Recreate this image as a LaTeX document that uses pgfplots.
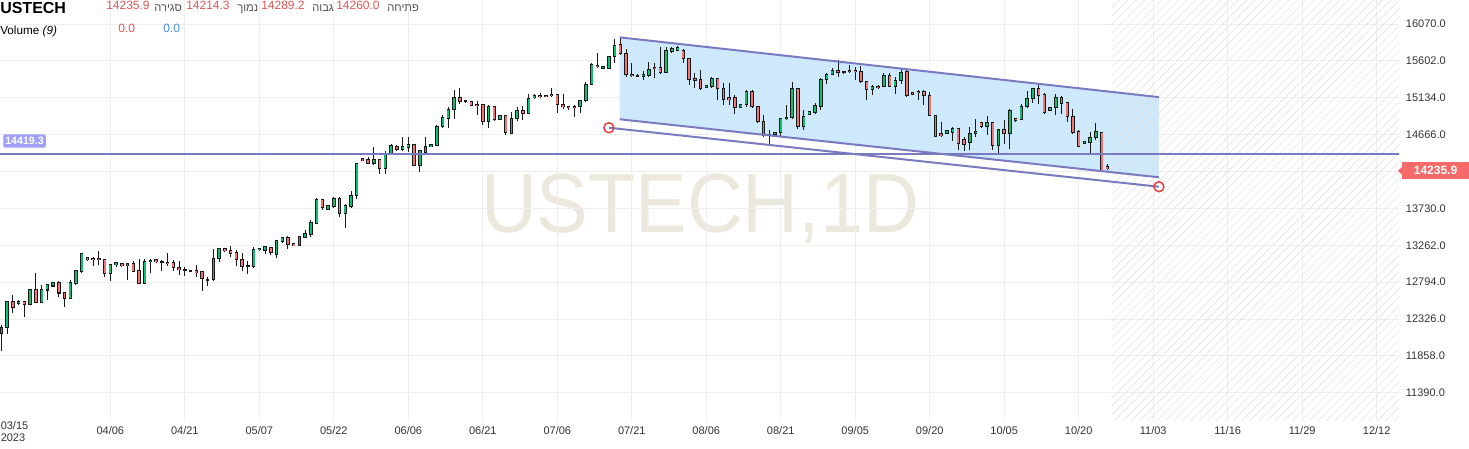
\documentclass[border=0pt]{standalone}
\usepackage{fontspec}
\setmainfont{Liberation Sans}
\newfontfamily\hebfont[Script=Hebrew]{Liberation Sans}
\TeXXeTstate=1
\usepackage{pgfplots}
\pgfplotsset{compat=1.18}
\usepackage{pgfplotstable}
\usetikzlibrary{patterns.meta}

\definecolor{upc}{RGB}{16,190,112}
\definecolor{dnc}{RGB}{240,118,118}
\definecolor{wick}{RGB}{25,25,25}
\definecolor{chan}{RGB}{122,122,192}
\definecolor{chanfill}{RGB}{206,233,252}
\definecolor{gridc}{RGB}{238,238,238}
\definecolor{hatchc}{RGB}{226,226,226}
\definecolor{labc}{RGB}{51,51,51}
\definecolor{hdrred}{RGB}{224,85,85}
\definecolor{hdrgrey}{RGB}{80,80,80}
\definecolor{hdrblue}{RGB}{70,140,230}
\definecolor{tagred}{RGB}{245,105,105}
\definecolor{hlab}{RGB}{160,160,248}
\definecolor{wm}{RGB}{236,232,221}
\definecolor{ringred}{RGB}{235,60,60}

\pgfplotstableread{
i o h l c
0 12144 12250 11915 12220
1 12220 12559 12135 12547
2 12547 12631 12398 12475
3 12525 12568 12508 12551
4 12547 12555 12347 12513
5 12517 12708 12500 12695
6 12695 12911 12525 12538
7 12538 12759 12525 12695
8 12695 12771 12568 12759
9 12746 12792 12737 12784
10 12784 12805 12602 12657
11 12661 12674 12474 12593
12 12593 12826 12593 12784
13 12780 12954 12763 12941
14 12933 13153 12907 13153
15 13102 13119 13068 13077
16 13094 13119 13004 13077
17 13090 13187 13013 13077
18 13077 13089 12856 12899
19 12899 13026 12805 13017
20 13013 13038 12992 13038
21 13034 13038 12992 13000
22 13000 13026 12822 13026
23 13026 13060 12920 12933
24 12941 13089 12780 12780
25 12780 13089 12780 13055
26 13051 13089 12911 13068
27 13077 13077 13034 13051
28 13043 13077 12933 13055
29 13043 13162 13004 13030
30 13038 13077 12933 12983
31 12983 13068 12886 12950
32 12954 12983 12869 12946
33 12946 12950 12933 12937
34 12937 13013 12865 12920
35 12933 12933 12678 12835
36 12831 12865 12750 12822
37 12831 13217 12814 13089
38 13089 13217 13047 13217
39 13217 13217 13174 13191
40 13195 13259 13119 13162
41 13166 13208 13004 13077
42 13077 13166 12933 12992
43 12992 13060 12898 13004
44 12995 13238 12980 13204
45 13204 13229 13195 13221
46 13195 13259 13153 13246
47 13229 13246 13144 13174
48 13144 13331 13098 13323
49 13314 13373 13289 13356
50 13356 13386 13212 13272
51 13280 13289 13259 13263
52 13263 13386 13259 13373
53 13365 13458 13356 13407
54 13399 13577 13373 13551
55 13543 13857 13534 13840
56 13840 13853 13713 13747
57 13713 13764 13713 13764
58 13755 13874 13738 13853
59 13853 13874 13619 13662
60 13662 13780 13479 13764
61 13755 13950 13738 13891
62 13891 14306 13853 14298
63 14357 14361 14332 14340
64 14353 14382 14289 14306
65 14306 14510 14276 14349
66 14349 14361 14170 14234
67 14234 14459 14170 14416
68 14416 14552 14404 14531
69 14518 14531 14467 14476
70 14476 14637 14459 14510
71 14501 14637 14446 14544
72 14544 14544 14264 14276
73 14276 14467 14192 14459
74 14446 14637 14404 14518
75 14510 14552 14510 14544
76 14531 14785 14523 14772
77 14764 14912 14755 14883
78 14870 15018 14751 14989
79 14984 15230 14870 15137
80 15137 15252 15052 15082
81 15095 15103 15082 15086
82 15082 15095 15031 15031
83 15052 15095 14912 15035
84 15052 15052 14785 14828
85 14828 15039 14755 15027
86 15027 15027 14849 14857
87 14857 14908 14857 14908
88 14908 14912 14658 14688
89 14680 14955 14671 14870
90 14870 15018 14840 14976
91 14976 15027 14849 14934
92 14934 15188 14925 15124
93 15133 15180 15124 15167
94 15167 15197 15133 15146
95 15167 15175 15146 15146
96 15175 15252 15146 15159
97 15175 15188 14942 15052
98 15052 15188 14997 15018
99 15022 15027 14976 15006
100 15027 15039 14891 15010
101 15027 15112 14942 15095
102 15095 15336 15082 15303
103 15303 15578 15294 15557
104 15548 15697 15518 15527
105 15502 15536 15502 15536
106 15502 15663 15493 15663
107 15663 15875 15578 15803
108 15815 15900 15676 15697
109 15697 15748 15392 15430
110 15434 15570 15392 15417
111 15421 15430 15400 15409
112 15409 15476 15358 15434
113 15421 15591 15400 15493
114 15519 15570 15379 15502
115 15519 15773 15443 15451
116 15451 15773 15443 15731
117 15718 15782 15705 15760
118 15739 15790 15731 15773
119 15739 15748 15570 15633
120 15633 15633 15294 15366
121 15375 15443 15264 15358
122 15366 15485 15230 15252
123 15264 15294 15264 15294
124 15282 15400 15252 15379
125 15379 15379 15112 15252
126 15252 15324 15040 15112
127 15137 15324 15040 15112
128 15137 15167 14934 15010
129 15010 15052 15010 15052
130 15052 15230 15018 15209
131 15209 15230 15010 15027
132 15027 15027 14815 14828
133 14828 14912 14637 14658
134 14671 14722 14531 14654
135 14671 14700 14668 14696
136 14688 14882 14637 14870
137 14866 15040 14857 14882
138 14882 15337 14870 15252
139 15252 15252 14743 14764
140 14773 14976 14730 14900
141 14925 14963 14920 14955
142 14942 15069 14934 15040
143 15018 15379 14985 15366
144 15366 15443 15307 15434
145 15434 15506 15421 15485
146 15485 15612 15400 15451
147 15468 15468 15434 15460
148 15481 15548 15451 15464
149 15485 15527 15358 15468
150 15472 15536 15328 15337
151 15337 15337 15112 15239
152 15239 15294 15167 15281
153 15281 15294 15255 15260
154 15281 15451 15273 15421
155 15421 15443 15273 15281
156 15281 15392 15180 15358
157 15349 15493 15315 15451
158 15464 15493 15146 15159
159 15201 15210 15180 15180
160 15218 15230 15103 15197
161 15218 15230 15040 15167
162 15167 15209 14900 14913
163 14913 14913 14637 14645
164 14679 14828 14637 14654
165 14679 14713 14675 14713
166 14700 14764 14586 14743
167 14747 14756 14476 14552
168 14603 14637 14459 14539
169 14573 14764 14467 14679
170 14679 14870 14637 14709
171 14815 14828 14756 14764
172 14764 14900 14658 14815
173 14815 14828 14467 14531
174 14531 14743 14404 14730
175 14730 14849 14552 14679
176 14679 14997 14489 14976
177 14870 14870 14828 14849
178 14857 15052 14849 15027
179 15018 15222 15010 15124
180 15124 15252 15069 15252
181 15252 15294 15061 15167
182 15180 15197 14934 14942
183 14968 15018 14968 15010
184 15010 15180 14912 15137
185 15137 15154 14934 15061
186 15069 15082 14828 14900
187 14900 14997 14679 14700
188 14709 14722 14510 14518
189 14552 14590 14545 14582
190 14573 14700 14404 14628
191 14628 14815 14594 14700
192 14696 14700 14205 14213
193 14260.0 14289.2 14214.3 14235.9
}\candles

\pgfplotsset{
  candle/.style={forget plot, draw=none, mark=none,
    error bars/y dir=both, error bars/y explicit, error bars/error mark=none},
}

\begin{document}
\begin{tikzpicture}
% watermark (pixel coordinates, origin top-left)
\begin{scope}[x=0.75pt,y=-0.75pt,yshift=315.75pt]
  \node[anchor=base, text=wm, inner sep=0pt, xscale=0.92] at (700,233) {\fontsize{63}{63}\selectfont USTECH,1D};
\end{scope}

\begin{axis}[
  at={(0,0)}, anchor=south west,
  scale only axis, width=1049.25pt, height=315.75pt,
  xmin=-0.26, xmax=243.9, ymin=11032, ymax=16375,
  scaled y ticks=false, scaled x ticks=false,
  axis line style={draw=none}, tick style={draw=none}, major tick length=0pt,
  xtick={19,32,45,58,71,84,97,110,123,136,149,162,175,188,201,214,227,240},
  xticklabels={04/06,04/21,05/07,05/22,06/06,06/21,07/06,07/21,08/06,08/21,09/05,09/20,10/05,10/20,11/03,11/16,11/29,12/12},
  xticklabel style={font=\fontsize{8.25}{9}\selectfont, text=labc, inner sep=0pt, anchor=north, yshift=-4pt},
  ytick={11390,11858,12326,12794,13262,13730,14198,14666,15134,15602,16070},
  yticklabels={11390.0,11858.0,12326.0,12794.0,13262.0,13730.0,{},14666.0,15134.0,15602.0,16070.0},
  yticklabel pos=right,
  yticklabel style={font=\fontsize{8.25}{9}\selectfont, text=labc, anchor=west, inner sep=0pt, xshift=5pt},
  xmajorgrids, ymajorgrids, grid style={gridc, line width=0.75pt},
  axis on top=false, clip=true,
]
% channel fill
\addplot[fill=chanfill, draw=none, forget plot] coordinates {(107.9,15901) (202,15142) (202,14125) (107.9,14861)} -- cycle;
% future hatched area
\addplot[draw=none, forget plot, pattern={Lines[angle=45,distance=4.5pt,line width=0.45pt]}, pattern color=hatchc] coordinates {(193.8,11000) (250,11000) (250,16400) (193.8,16400)} -- cycle;

% wicks
\addplot[candle, error bars/error bar style={line width=0.75pt, draw=wick, solid}]
  table[x=i, y=c, y error plus expr=\thisrow{h}-\thisrow{c}, y error minus expr=\thisrow{c}-\thisrow{l}] {\candles};
% body outlines
\addplot[candle, error bars/error bar style={line width=2.6pt, draw=wick, solid}]
  table[x=i, y expr=(\thisrow{o}+\thisrow{c})/2, y error expr={abs(\thisrow{o}-\thisrow{c})/2+7}] {\candles};
% up bodies
\addplot[candle, unbounded coords=discard,
  x filter/.expression={\thisrow{c}>=\thisrow{o} ? \thisrow{i} : nan},
  error bars/error bar style={line width=1.4pt, draw=upc, solid}]
  table[x=i, y expr=(\thisrow{o}+\thisrow{c})/2, y error expr={max(abs(\thisrow{o}-\thisrow{c})/2-6,0)}] {\candles};
% down bodies
\addplot[candle, unbounded coords=discard,
  x filter/.expression={\thisrow{c}<\thisrow{o} ? \thisrow{i} : nan},
  error bars/error bar style={line width=1.4pt, draw=dnc, solid}]
  table[x=i, y expr=(\thisrow{o}+\thisrow{c})/2, y error expr={max(abs(\thisrow{o}-\thisrow{c})/2-6,0)}] {\candles};

% horizontal level
\addplot[chan, line width=1.5pt, forget plot] coordinates {(-5,14419.3) (250,14419.3)};
% channel lines
\addplot[chan, line width=1.5pt, forget plot] coordinates {(107.9,15901) (202,15142)};
\addplot[chan, line width=1.5pt, forget plot] coordinates {(107.9,14861) (202,14125)};
\addplot[chan, line width=1.5pt, forget plot] coordinates {(106,14754) (202,14005)};
% anchor rings
\addplot[only marks, mark=o, mark size=3.75pt, mark options={ringred, line width=1.1pt}, forget plot] coordinates {(106,14754) (202,14005)};
\end{axis}

\begin{scope}[x=0.75pt,y=-0.75pt,yshift=315.75pt]
  % header
  \node[anchor=base west, inner sep=0pt, font=\bfseries\fontsize{12}{12}\selectfont] at (0,13.3) {USTECH};
  \node[anchor=base west, inner sep=0pt, text=hdrred, font=\fontsize{9}{9}\selectfont] at (106,10) {14235.9};
  \node[anchor=base west, inner sep=0pt, text=hdrgrey, font=\fontsize{8.4}{9}\selectfont] at (154,12) {\hebfont\beginR סגירה\endR};
  \node[anchor=base west, inner sep=0pt, text=hdrred, font=\fontsize{9}{9}\selectfont] at (186,10) {14214.3};
  \node[anchor=base west, inner sep=0pt, text=hdrgrey, font=\fontsize{8.4}{9}\selectfont] at (237,12) {\hebfont\beginR נמוך\endR};
  \node[anchor=base west, inner sep=0pt, text=hdrred, font=\fontsize{9}{9}\selectfont] at (261,10) {14289.2};
  \node[anchor=base west, inner sep=0pt, text=hdrgrey, font=\fontsize{8.4}{9}\selectfont] at (312,12) {\hebfont\beginR גבוה\endR};
  \node[anchor=base west, inner sep=0pt, text=hdrred, font=\fontsize{9}{9}\selectfont] at (336,10) {14260.0};
  \node[anchor=base west, inner sep=0pt, text=hdrgrey, font=\fontsize{8.4}{9}\selectfont] at (387,12) {\hebfont\beginR פתיחה\endR};
  \node[anchor=base west, inner sep=0pt, font=\fontsize{8.8}{9}\selectfont] at (0,34.5) {Volume \textit{(9)}};
  \node[anchor=base west, inner sep=0pt, text=hdrred, font=\fontsize{9}{9}\selectfont] at (118,33) {0.0};
  \node[anchor=base west, inner sep=0pt, text=hdrblue, font=\fontsize{9}{9}\selectfont] at (163,33) {0.0};
  % first date label
  \node[anchor=north west, align=left, inner sep=0pt, text=labc, font=\fontsize{8.25}{9}\selectfont] at (0.5,421.5) {03/15\\2023};
  % level label
  \node[anchor=west, fill=hlab, rounded corners=1.5pt, text=white, inner xsep=1.5pt, inner ysep=2.2pt, font=\bfseries\fontsize{8}{8}\selectfont] at (3,141) {14419.3};
  % last price tag
  \fill[tagred] (1402,162.3) rectangle (1469,179.3);
  \fill[tagred] (1398,170.8) -- (1402.5,166.3) -- (1402.5,175.3) -- cycle;
  \node[text=white, inner sep=0pt, font=\bfseries\fontsize{9}{9}\selectfont] at (1435.5,170.8) {14235.9};
  % picture size = reference image
  \pgfresetboundingbox
  \path[use as bounding box] (0,0) rectangle (1469,449);
\end{scope}
\end{tikzpicture}
\end{document}
